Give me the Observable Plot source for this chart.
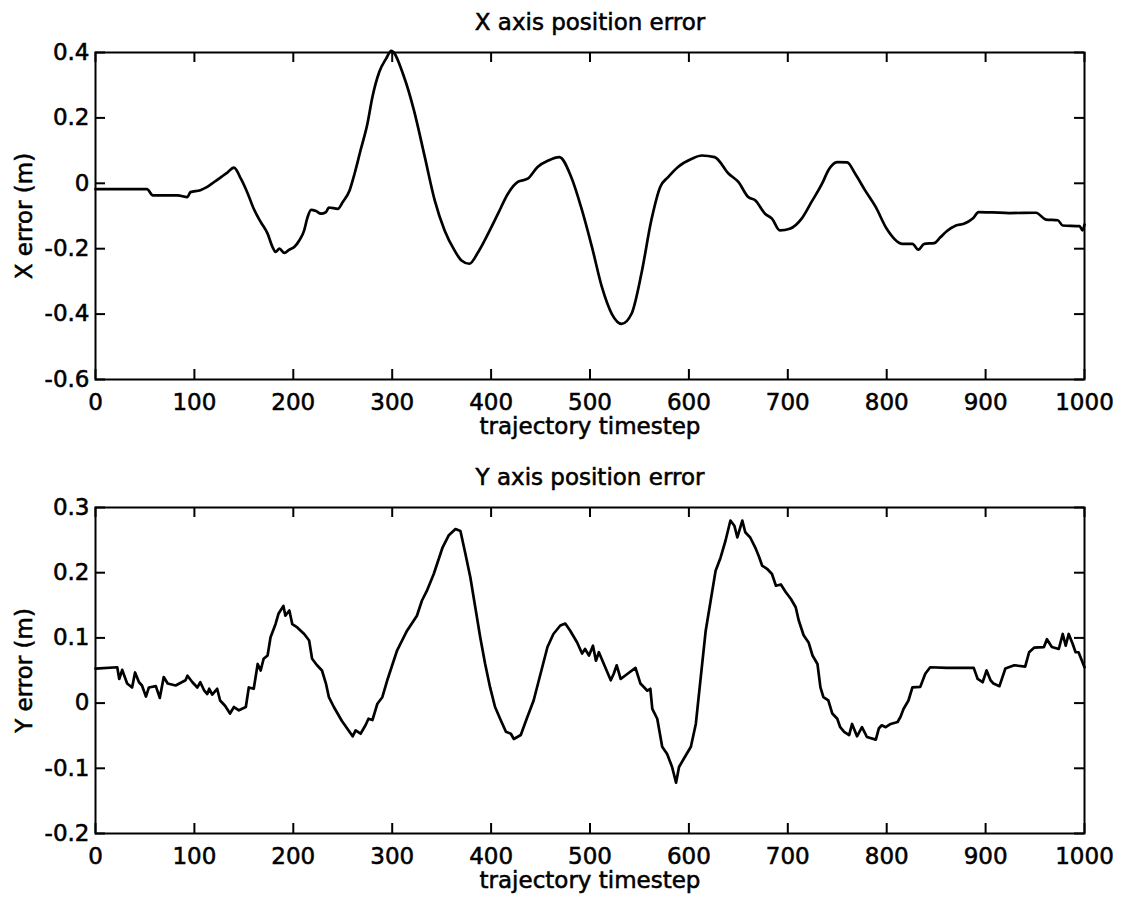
<!DOCTYPE html>
<html><head><meta charset="utf-8">
<script src="https://cdn.jsdelivr.net/npm/d3@7"></script>
<script src="https://cdn.jsdelivr.net/npm/@observablehq/plot@0.6"></script>
<style>body{margin:0;background:#fff;} svg{display:block;} svg text{stroke:#000;stroke-width:0.55px;}</style>
</head><body><div id="chart"></div>
<script>
// ---- data ----
const xTicks = [0,100,200,300,400,500,600,700,800,900,1000];
const xErrTicks = [-0.6,-0.4,-0.2,0,0.2,0.4];
const yErrTicks = [-0.2,-0.1,0,0.1,0.2,0.3];
const titleX = "X axis position error";
const titleY = "Y axis position error";
const xLabel = "trajectory timestep";
const yLabelX = "X error (m)";
const yLabelY = "Y error (m)";

const xTime = [0,52,58,83,93,96,106,113,120,127,133,140,147,154,160,167,174,179,182,186,191,196,201,206,211,214,218,223,228,233,236,245,250,257,262,268,275,280,287,294,299,312,322,333,343,353,363,370,378,387,397,407,417,427,437,447,458,469,481,491,502,512,522,532,542,552,562,571,579,589,603,613,626,640,650,660,667,677,684,692,702,714,724,735,741,750,760,768,778,789,800,816,826,832,838,848,854,861,870,878,887,893,907,924,951,961,973,978,995,998,1000];
const xErr = [-0.018,-0.018,-0.037,-0.037,-0.042,-0.027,-0.021,-0.011,0.004,0.019,0.032,0.048,0.014,-0.032,-0.078,-0.118,-0.154,-0.195,-0.21,-0.2,-0.213,-0.203,-0.195,-0.175,-0.144,-0.108,-0.081,-0.085,-0.093,-0.088,-0.074,-0.078,-0.057,-0.021,0.03,0.101,0.183,0.264,0.341,0.382,0.405,0.325,0.223,0.08,-0.052,-0.144,-0.205,-0.236,-0.246,-0.21,-0.154,-0.093,-0.032,0.004,0.014,0.05,0.07,0.08,0.019,-0.073,-0.195,-0.317,-0.399,-0.43,-0.399,-0.276,-0.113,-0.011,0.019,0.05,0.075,0.085,0.08,0.03,0.004,-0.042,-0.052,-0.093,-0.108,-0.144,-0.139,-0.108,-0.057,0.001,0.04,0.065,0.064,0.03,-0.021,-0.073,-0.139,-0.185,-0.185,-0.203,-0.185,-0.183,-0.166,-0.146,-0.129,-0.124,-0.108,-0.088,-0.089,-0.091,-0.09,-0.111,-0.113,-0.129,-0.131,-0.144,-0.126];

const yTime = [0,22,24,27,32,37,40,44,47,51,54,61,65,69,73,81,91,93,98,103,106,110,113,115,118,123,126,131,136,140,145,152,155,160,164,167,170,174,177,182,185,190,192,196,199,204,211,216,219,224,229,233,236,241,249,260,263,268,273,276,280,285,290,295,305,315,325,330,335,342,351,357,364,369,374,379,384,389,394,399,404,410,415,420,423,430,436,443,450,457,463,470,475,480,487,492,495,499,503,506,509,514,521,524,527,531,538,546,551,558,561,563,568,573,578,583,587,590,595,602,607,612,617,622,627,632,637,642,646,649,654,657,662,667,671,674,679,684,688,693,698,703,708,711,716,721,725,730,733,736,741,745,750,753,757,762,765,770,775,780,789,792,795,799,804,811,814,817,822,826,834,839,844,861,888,892,897,901,905,908,914,920,929,940,944,949,959,962,967,974,978,981,984,988,991,994,1000];
const yErr = [0.053,0.055,0.037,0.051,0.030,0.024,0.047,0.032,0.027,0.010,0.024,0.026,0.008,0.040,0.030,0.027,0.035,0.042,0.032,0.024,0.032,0.019,0.014,0.022,0.013,0.022,0.004,-0.004,-0.016,-0.006,-0.011,-0.006,0.024,0.022,0.060,0.050,0.068,0.073,0.101,0.121,0.137,0.149,0.134,0.142,0.121,0.116,0.106,0.096,0.068,0.058,0.050,0.030,0.009,-0.006,-0.027,-0.051,-0.042,-0.047,-0.034,-0.024,-0.026,-0.001,0.009,0.035,0.081,0.111,0.134,0.157,0.172,0.198,0.239,0.257,0.267,0.264,0.229,0.193,0.147,0.101,0.060,0.024,-0.006,-0.027,-0.044,-0.047,-0.055,-0.049,-0.024,0.004,0.045,0.086,0.106,0.119,0.122,0.111,0.093,0.076,0.083,0.073,0.088,0.065,0.078,0.060,0.035,0.045,0.058,0.037,0.045,0.054,0.030,0.019,0.022,-0.009,-0.024,-0.067,-0.078,-0.098,-0.122,-0.098,-0.085,-0.067,-0.032,0.040,0.111,0.157,0.203,0.223,0.249,0.280,0.272,0.254,0.280,0.262,0.254,0.239,0.224,0.211,0.206,0.198,0.180,0.182,0.170,0.160,0.147,0.127,0.104,0.093,0.073,0.060,0.024,0.009,0.004,-0.016,-0.024,-0.037,-0.044,-0.049,-0.032,-0.051,-0.037,-0.052,-0.056,-0.039,-0.034,-0.037,-0.032,-0.029,-0.021,-0.009,0.004,0.024,0.025,0.045,0.055,0.054,0.054,0.037,0.032,0.050,0.035,0.030,0.026,0.053,0.058,0.056,0.078,0.085,0.086,0.098,0.086,0.083,0.106,0.088,0.106,0.091,0.078,0.078,0.055];

// ---- drawing ----
const FONT = "'DejaVu Sans', 'Liberation Sans', Arial, sans-serif";
const FS = 23;
function panel({time, values, yTicks, yDomain, title, ylabel, height, marginTop, marginBottom, curve}) {
  const W = 1125, ml = 95, mr = 41;
  const fw = W - ml - mr;
  const fh = height - marginTop - marginBottom;
  const tk = 10;
  const data = time.map((t, i) => ({t, v: values[i]}));
  return Plot.plot({
    width: W, height, marginTop, marginBottom, marginLeft: ml, marginRight: mr,
    style: {fontFamily: FONT, fontSize: FS + "px", background: "#fff", color: "#000", overflow: "visible"},
    x: {domain: [0, 1000]},
    y: {domain: yDomain},
    marks: [
      Plot.axisX(xTicks, {anchor: "bottom", tickSize: 0, tickPadding: 14, tickFormat: d => String(d), label: null, fontSize: FS}),
      Plot.axisY(yTicks, {anchor: "left", tickSize: 0, tickPadding: 6, tickFormat: d => String(d), label: null, fontSize: FS}),
      Plot.tickX(xTicks, {x: d => d, insetTop: fh - tk, strokeWidth: 2}),
      Plot.tickX(xTicks, {x: d => d, insetBottom: fh - tk, strokeWidth: 2}),
      Plot.tickY(yTicks, {y: d => d, insetRight: fw - tk, strokeWidth: 2}),
      Plot.tickY(yTicks, {y: d => d, insetLeft: fw - tk, strokeWidth: 2}),
      Plot.line(data, {x: "t", y: "v", stroke: "#000", strokeWidth: 2.7, curve}),
      Plot.frame({stroke: "#000", strokeWidth: 2}),
      Plot.text([title], {text: d => d, frameAnchor: "top", lineAnchor: "middle", textAnchor: "middle", dy: -30, fontSize: FS}),
      Plot.text([xLabel], {text: d => d, frameAnchor: "bottom", lineAnchor: "middle", textAnchor: "middle", dy: 47, fontSize: FS}),
      Plot.text([ylabel], {text: d => d, frameAnchor: "left", lineAnchor: "middle", textAnchor: "middle", dx: -71, rotate: -90, fontSize: FS})
    ]
  });
}

const root = document.getElementById("chart");
root.appendChild(panel({time: xTime, values: xErr, yTicks: xErrTicks, yDomain: [-0.6, 0.4],
  title: titleX, ylabel: yLabelX, height: 450, marginTop: 52, marginBottom: 71, curve: "monotone-x"}));
root.appendChild(panel({time: yTime, values: yErr, yTicks: yErrTicks, yDomain: [-0.2, 0.3],
  title: titleY, ylabel: yLabelY, height: 448, marginTop: 57, marginBottom: 65, curve: "linear"}));
</script>
</body></html>
